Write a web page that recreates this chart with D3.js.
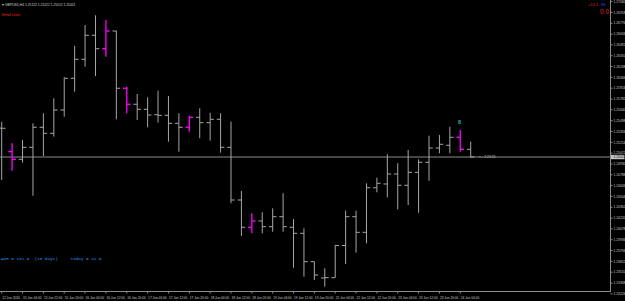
<!DOCTYPE html>
<html><head><meta charset="utf-8">
<script src="https://cdn.jsdelivr.net/npm/d3@7"></script>
<style>html,body{margin:0;padding:0;background:#000;overflow:hidden}</style>
</head><body>
<svg id="c" width="625" height="301"></svg>
<script>
const symbolTitle = "GBPUSD,H4";
const times = ["12 Jun 20:00","15 Jun 00:00","15 Jun 04:00","15 Jun 08:00","15 Jun 12:00","15 Jun 16:00","15 Jun 20:00",
"16 Jun 00:00","16 Jun 04:00","16 Jun 08:00","16 Jun 12:00","16 Jun 16:00","16 Jun 20:00",
"17 Jun 00:00","17 Jun 04:00","17 Jun 08:00","17 Jun 12:00","17 Jun 16:00","17 Jun 20:00",
"18 Jun 00:00","18 Jun 04:00","18 Jun 08:00","18 Jun 12:00","18 Jun 16:00","18 Jun 20:00",
"19 Jun 00:00","19 Jun 04:00","19 Jun 08:00","19 Jun 12:00","19 Jun 16:00","19 Jun 20:00",
"22 Jun 00:00","22 Jun 04:00","22 Jun 08:00","22 Jun 12:00","22 Jun 16:00","22 Jun 20:00",
"23 Jun 00:00","23 Jun 04:00","23 Jun 08:00","23 Jun 12:00","23 Jun 16:00","23 Jun 20:00",
"24 Jun 00:00","24 Jun 04:00","24 Jun 08:00"];
const openP  = [1.25400,1.25091,1.24991,1.25148,1.25411,1.25332,1.25638,1.26054,1.26303,1.26618,1.26442,1.26674,1.25923,1.25713,1.25647,1.25576,1.25568,1.25463,1.25411,1.25542,1.25471,1.25516,1.25148,1.24457,1.24099,1.24182,1.24107,1.24238,1.24099,1.24020,1.23648,1.23434,1.23438,1.23860,1.24238,1.24033,1.24618,1.24667,1.24798,1.24650,1.24820,1.24952,1.25139,1.25175,1.25280,1.25122];
const highP  = [1.25484,1.25201,1.25244,1.25463,1.25595,1.25791,1.26067,1.26478,1.26753,1.26880,1.26819,1.26678,1.25944,1.25848,1.25804,1.25891,1.25822,1.25595,1.25563,1.25660,1.25602,1.25595,1.25484,1.24575,1.24283,1.24296,1.24348,1.24545,1.24208,1.24086,1.23648,1.23561,1.23867,1.24317,1.24317,1.24676,1.24750,1.25057,1.24939,1.25113,1.24991,1.25301,1.25310,1.25419,1.25375,1.25222];
const lowP   = [1.24719,1.24841,1.24946,1.24513,1.25034,1.25288,1.25550,1.25878,1.26206,1.26084,1.26337,1.25516,1.25595,1.25507,1.25411,1.25471,1.25222,1.25091,1.25353,1.25267,1.25235,1.25078,1.24414,1.23985,1.24020,1.24020,1.24041,1.24041,1.23569,1.23451,1.23407,1.23320,1.23438,1.23617,1.23766,1.23889,1.24558,1.24492,1.24335,1.24391,1.24290,1.24710,1.25070,1.25070,1.25091,1.25012];
const closeP = [1.25398,1.24991,1.25148,1.25411,1.25332,1.25638,1.26054,1.26303,1.26618,1.26442,1.26674,1.25923,1.25713,1.25647,1.25572,1.25568,1.25463,1.25411,1.25542,1.25471,1.25516,1.25148,1.24457,1.24099,1.24182,1.24107,1.24238,1.24107,1.24020,1.23648,1.23473,1.23438,1.23860,1.24238,1.24033,1.24618,1.24676,1.24798,1.24650,1.24820,1.24952,1.25139,1.25188,1.25280,1.25122,1.25021];
const markedBars = ["15 Jun 00:00","16 Jun 12:00","16 Jun 20:00","17 Jun 20:00","18 Jun 20:00","24 Jun 04:00"];
const priceTicks = [1.27060,1.26918,1.26776,1.26634,1.26492,1.26350,1.26208,1.26066,1.25924,1.25782,1.25640,1.25498,1.25356,1.25214,1.25072,1.24930,1.24788,1.24646,1.24504,1.24362,1.24220,1.24078,1.23936,1.23794,1.23652,1.23510,1.23368,1.23226];
const xTickTimes = ["12 Jun 20:00","15 Jun 04:00","15 Jun 12:00","15 Jun 20:00","16 Jun 04:00","16 Jun 12:00","16 Jun 20:00","17 Jun 04:00","17 Jun 12:00","17 Jun 20:00","18 Jun 04:00","18 Jun 12:00","18 Jun 20:00","19 Jun 04:00","19 Jun 12:00","19 Jun 20:00","22 Jun 04:00","22 Jun 12:00","22 Jun 20:00","23 Jun 04:00","23 Jun 12:00","23 Jun 20:00","24 Jun 04:00"];
const xTickLabels = ["12 Jun 2020","15 Jun 04:00","15 Jun 12:00","15 Jun 20:00","16 Jun 04:00","16 Jun 12:00","16 Jun 20:00","17 Jun 04:00","17 Jun 12:00","17 Jun 20:00","18 Jun 04:00","18 Jun 12:00","18 Jun 20:00","19 Jun 04:00","19 Jun 12:00","19 Jun 20:00","22 Jun 04:00","22 Jun 12:00","22 Jun 20:00","23 Jun 04:00","23 Jun 12:00","23 Jun 20:00","24 Jun 04:00"];
const adrText = "ADR = 131.9  (10 days)     Today = 41.6";
const indicatorName = "Small Lines";
const timerText = "<-- 2:23:25";
const signalBar = "24 Jun 04:00";

const W = 625, H = 301, plotR = 610.5, plotB = 291.5;
const svg = d3.select("#c");
svg.append("rect").attr("width", W).attr("height", H).attr("fill", "#000");

const x = d3.scalePoint().domain(times).range([1.7, 470.7]);
const y = d3.scaleLinear().domain([1.23250, 1.27081]).range([292, 0]);

const plot = svg.append("g");
plot.append("clipPath").attr("id","clp").append("rect").attr("x",0).attr("y",0).attr("width",plotR).attr("height",plotB);
const bars = plot.append("g").attr("clip-path","url(#clp)");

// current price line
const last = closeP[closeP.length-1];
bars.append("line").attr("x1",0).attr("x2",plotR).attr("y1",y(last)).attr("y2",y(last))
  .attr("stroke","#8a8a8a").attr("stroke-width",1);

const data = times.map((t,i)=>({t, o:openP[i], h:highP[i], l:lowP[i], c:closeP[i], m: markedBars.includes(t)}));
const g = bars.selectAll("g.bar").data(data).join("g").attr("class","bar")
  .attr("stroke", d => d.m ? "#ff00ff" : "#a6a6a6")
  .attr("stroke-width", d => d.m ? 1.3 : 1);
g.append("line").attr("x1", d=>x(d.t)).attr("x2", d=>x(d.t)).attr("y1", d=>y(d.h)).attr("y2", d=>y(d.l));
g.append("line").attr("x1", d=>x(d.t)-3.8).attr("x2", d=>x(d.t)).attr("y1", d=>y(d.o)).attr("y2", d=>y(d.o));
g.append("line").attr("x1", d=>x(d.t)).attr("x2", d=>x(d.t)+3.8).attr("y1", d=>y(d.c)).attr("y2", d=>y(d.c));

// frame
svg.append("line").attr("x1",plotR).attr("x2",plotR).attr("y1",0).attr("y2",plotB+0.5).attr("stroke","#8c8c8c");
svg.append("line").attr("x1",0).attr("x2",plotR).attr("y1",plotB).attr("y2",plotB).attr("stroke","#8c8c8c");

// price axis
const pa = svg.append("g");
pa.selectAll("line.t").data(priceTicks).join("line").attr("class","t")
  .attr("x1",plotR).attr("x2",plotR+2).attr("y1",d=>y(d)).attr("y2",d=>y(d)).attr("stroke","#8c8c8c");
pa.selectAll("text").data(priceTicks).join("text")
  .attr("x",plotR+3).attr("y",d=>y(d)+1.2)
  .attr("font-family","Liberation Sans, Arial, sans-serif").attr("font-size",3.3)
  .attr("fill","#c8c8c8").text(d=>d.toFixed(5));
// current price box
pa.append("rect").attr("x",plotR+0.5).attr("y",y(last)-2.2).attr("width",13.5).attr("height",4.4).attr("fill","#c4c4c4");
pa.append("text").attr("x",plotR+3).attr("y",y(last)+1.2)
  .attr("font-family","Liberation Sans, Arial, sans-serif").attr("font-size",3.3).attr("fill","#000").text(last.toFixed(5));

// time axis
const ta = svg.append("g");
ta.selectAll("line").data(xTickTimes).join("line")
  .attr("x1",d=>x(d)).attr("x2",d=>x(d)).attr("y1",plotB).attr("y2",plotB+2).attr("stroke","#8c8c8c");
ta.selectAll("text").data(xTickTimes).join("text")
  .attr("x",d=>x(d)+0.5).attr("y",298.8)
  .attr("font-family","Liberation Sans, Arial, sans-serif").attr("font-size",3.2)
  .attr("fill","#c8c8c8").text((d,i)=>xTickLabels[i]);

// header texts
const last5 = d3.format(".5f");
svg.append("text").attr("x",1.5).attr("y",6.2).attr("font-size",3.5).attr("fill","#c8c8c8").text("\u25BE");
svg.append("text").attr("x",5).attr("y",6.2).attr("font-family","Liberation Sans, Arial, sans-serif").attr("font-size",3.3)
  .attr("fill","#d0d0d0").text(`${symbolTitle}  ${last5(openP[45])} ${last5(highP[45])} ${last5(lowP[45])} ${last5(closeP[45])}`);
svg.append("text").attr("x",1.5).attr("y",16.3).attr("font-family","Liberation Sans, Arial, sans-serif").attr("font-size",3.6)
  .attr("fill","#ff2020").text(indicatorName);

// top right
svg.append("text").attr("x",588).attr("y",6.3).attr("font-family","Liberation Sans, Arial, sans-serif").attr("font-size",4)
  .attr("fill","#e02020").text("+13.1");
svg.append("text").attr("x",601).attr("y",6.3).attr("font-family","Liberation Sans, Arial, sans-serif").attr("font-size",4)
  .attr("fill","#2040e0").text("88");
svg.append("text").attr("x",600).attr("y",13.5).attr("font-family","Liberation Sans, Arial, sans-serif").attr("font-size",6.5)
  .attr("fill","#e02020").text("0.0");

// ADR text
svg.append("text").attr("x",1).attr("y",259.5).attr("font-family","Liberation Mono, monospace").attr("font-size",4.3)
  .attr("fill","#2299ee").attr("xml:space","preserve").style("white-space","pre").text(adrText);

// signal marker
svg.append("text").attr("x",x(signalBar)-0.8).attr("y",y(highP[44])-6).attr("text-anchor","middle")
  .attr("font-family","Liberation Sans, Arial, sans-serif").attr("font-size",5.5).attr("font-weight","bold")
  .attr("fill","#19b3b3").text("8");

// timer text
svg.append("text").attr("x",479).attr("y",y(last)+0.6).attr("font-family","Liberation Sans, Arial, sans-serif").attr("font-size",3.4)
  .attr("fill","#c0c0c0").text(timerText);
</script>
</body></html>
